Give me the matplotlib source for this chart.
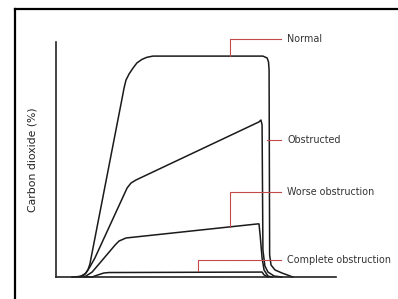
import matplotlib
matplotlib.use("Agg")
import matplotlib.pyplot as plt
from matplotlib.lines import Line2D

# ---- data (time units 0-100, CO2 units 0-100) ----
normal_t = [5.7, 8.6, 10.4, 11.4, 12.1, 23.6, 24.3, 25.0, 26.1, 27.5, 28.9, 30.7, 32.5, 34.6,
            73.9, 75.4, 75.9, 76.1, 76.3, 76.8, 78.2, 80.7, 84.6]
normal_c = [0.0, 0.2, 1.3, 3.0, 5.5, 76.0, 80.4, 83.8, 86.4, 88.9, 91.1, 92.6, 93.5, 94.0,
            94.0, 93.2, 91.5, 88.1, 9.4, 5.1, 3.0, 1.7, 0.0]

obstr_t = [7.1, 9.3, 10.7, 12.1, 13.9, 25.4, 26.8, 28.6, 72.5, 73.2, 73.6, 73.9, 74.6, 75.7, 77.9, 80.7]
obstr_c = [0.0, 0.4, 1.7, 4.3, 8.1, 37.9, 40.0, 41.3, 66.0, 66.8, 64.7, 11.5, 4.7, 2.1, 0.4, 0.0]

worse_t = [8.6, 10.7, 12.9, 15.7, 21.1, 22.5, 25.0, 72.1, 72.5, 72.9, 73.6, 74.3, 75.7, 77.1]
worse_c = [0.0, 0.4, 2.1, 6.0, 13.6, 15.3, 16.6, 22.6, 22.6, 17.9, 8.1, 3.0, 0.4, 0.0]

complete_t = [10.0, 12.9, 15.0, 17.1, 18.9, 73.6, 74.3, 75.7]
complete_c = [0.0, 0.0, 0.9, 1.7, 1.9, 2.1, 0.9, 0.0]

labels = ["Normal", "Obstructed", "Worse obstruction", "Complete obstruction"]
# leader anchor (on curve) and label height, data units
anchor_t = [62.1, 75.3, 62.1, 50.7]
anchor_c = [94.0, 58.3, 21.3, 2.6]
label_c = [101.3, 58.3, 36.2, 7.2]
leader_end_t = 80.4
text_t = 82.5

fig = plt.figure(figsize=(3.98, 2.99), dpi=100)
ax = fig.add_axes([56/398, 22/299, 280/398, 235/299])
ax.set_xlim(0, 100)
ax.set_ylim(0, 100)
for s in ["top", "right"]:
    ax.spines[s].set_visible(False)
for s in ["left", "bottom"]:
    ax.spines[s].set_linewidth(1.2)
    ax.spines[s].set_color("#222222")
ax.set_xticks([])
ax.set_yticks([])
ax.set_ylabel("Carbon dioxide (%)", fontsize=7.8, color="#222222", labelpad=13)

kw = dict(color="#1a1a1a", lw=1.1, solid_joinstyle="round", clip_on=False)
ax.plot(normal_t, normal_c, **kw)
ax.plot(obstr_t, obstr_c, **kw)
ax.plot(worse_t, worse_c, **kw)
ax.plot(complete_t, complete_c, **kw)

red = "#c24a4a"
for lab, at, ac, lc in zip(labels, anchor_t, anchor_c, label_c):
    ax.plot([at, at, leader_end_t], [ac, lc, lc], color=red, lw=0.8, clip_on=False)
    ax.text(text_t, lc, lab, fontsize=6.9, color="#333333", va="center", ha="left", clip_on=False)

# outer frame (left and top edges)
fig.add_artist(Line2D([15/398, 15/398], [0, 1 - 9/299], transform=fig.transFigure, color="black", lw=1.6))
fig.add_artist(Line2D([15/398, 1], [1 - 9/299, 1 - 9/299], transform=fig.transFigure, color="black", lw=1.6))

fig.savefig("out.png", dpi=100)
